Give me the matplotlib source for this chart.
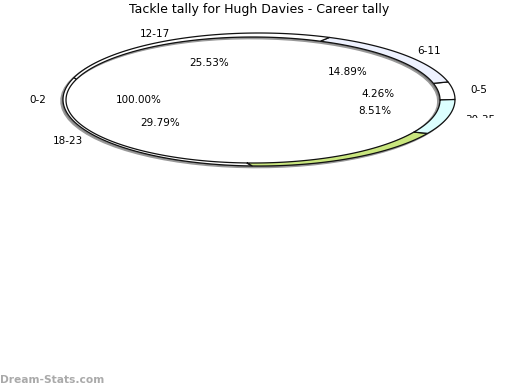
import numpy as np
import matplotlib
matplotlib.use('Agg')
import matplotlib.pyplot as plt
from matplotlib.patches import Polygon
from matplotlib.transforms import Bbox

# wedge data, counter-clockwise from the right side
labels = ['0-5', '6-11', '12-17', '18-23', '24-29', '30-35']
shares = [4.26, 14.89, 25.53, 29.79, 17.02, 8.51]
colors = ['#ffffff', '#eef2ff', '#ffffff', '#ffffff', '#c9e67e', '#dcffff']

fig = plt.figure(figsize=(5.2, 3.9), dpi=100)
ax = fig.add_axes([0, 0, 1, 1])
ax.set_xlim(0, 520)
ax.set_ylim(390, 0)
ax.axis('off')

# outer and inner ellipse of the ring (pixel space)
ocx, ocy, orx, ory = 259, 99.5, 196, 66.5
icx, icy, irx, iry = 253, 100, 187, 63

def ring(a0, a1, dx=0, dy=0):
    t = np.radians(np.linspace(a0, a1, 80))
    outer = np.column_stack([ocx + dx + orx*np.cos(t), ocy + dy - ory*np.sin(t)])
    inner = np.column_stack([icx + dx + irx*np.cos(t[::-1]), icy + dy - iry*np.sin(t[::-1])])
    return np.vstack([outer, inner])

# shadow
ax.add_patch(Polygon(ring(0, 360, -2, 1.5), closed=True, fc='#777777', ec='#999999', lw=1.2))

a = 0
for lab, s, c in zip(labels, shares, colors):
    span = s / 100 * 360
    ax.add_patch(Polygon(ring(a, a + span), closed=True, fc=c, ec='#111111', lw=0.9))
    a += span

fs = 7.5
ax.text(259, 10, 'Tackle tally for Hugh Davies - Career tally', ha='center', va='center', fontsize=9)
ax.text(155, 34, '12-17', ha='center', va='center', fontsize=fs)
ax.text(429, 51, '6-11', ha='center', va='center', fontsize=fs)
ax.text(479, 90, '0-5', ha='center', va='center', fontsize=fs)
ax.text(38, 100, '0-2', ha='center', va='center', fontsize=fs)
ax.text(68, 141, '18-23', ha='center', va='center', fontsize=fs)
t = ax.text(480, 120, '30-35', ha='center', va='center', fontsize=fs)
t.set_clip_box(Bbox([[0, 390 - 118], [520, 390]]))
t.set_clip_on(True)

pct = [('25.53%', 209, 63), ('14.89%', 348, 72), ('4.26%', 378, 94),
       ('8.51%', 375, 111), ('100.00%', 139, 100), ('29.79%', 160, 123)]
for s, x, y in pct:
    ax.text(x, y, s, ha='center', va='center', fontsize=fs)

ax.text(0, 380, 'Dream-Stats.com', ha='left', va='center', fontsize=7.7,
        color='#aaaaaa', fontweight='semibold')

fig.savefig('out.png', dpi=100)
